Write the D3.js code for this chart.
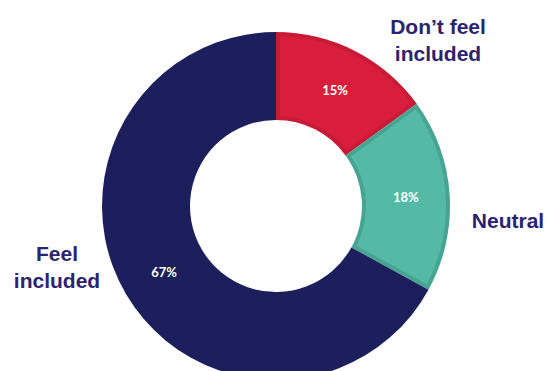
<!DOCTYPE html>
<html>
<head>
    <script src="https://d3js.org/d3.v7.min.js"></script>
    <style>
        body { margin: 0; background: #fff; }
        .outer-label { font-family: "Liberation Sans", Arial, sans-serif; font-weight: bold; font-size: 21px; fill: #2b2370; }
        .pct { font-family: Lato, "Open Sans", sans-serif; font-weight: bold; font-size: 13px; fill: #fff; }
    </style>
</head>
<body>
    <div id="chart"></div>
    <script>
        // slices in clockwise order from 12 o'clock
        const categories = ["Don't feel included", "Neutral", "Feel included"];
        const values = [15, 18, 67];
        const pctLabels = ["15%", "18%", "67%"];
        const fillColors = ["#d91e3c", "#54baa6", "#1c1f5c"];
        const edgeColors = ["#c71b37", "#46a592", "#1c1f5c"];
        // outer label lines per slice
        const outerLines = [["Don\u2019t feel", "included"], ["Neutral"], ["Feel", "included"]];

        const width = 549, height = 371;
        const cx = 276, cy = 206;
        const outerR = 174, innerR = 86;

        const svg = d3.select("#chart")
            .append("svg")
            .attr("width", width)
            .attr("height", height);

        const g = svg.append("g")
            .attr("transform", `translate(${cx},${cy})`);

        const pie = d3.pie().sort(null).value(d => d);
        const arcs = pie(values);

        const arc = d3.arc().innerRadius(innerR).outerRadius(outerR);
        // inset arc, leaves a darker rim on each slice
        const inset = d3.arc()
            .innerRadius(innerR + 4)
            .outerRadius(outerR - 4)
            .padRadius(130)
            .padAngle(8 / 130);
        const labelArc = d3.arc().innerRadius(130).outerRadius(130);

        g.selectAll("path.rim")
            .data(arcs)
            .join("path")
            .attr("class", "rim")
            .attr("d", arc)
            .attr("fill", (d, i) => edgeColors[i]);

        g.selectAll("path.slice")
            .data(arcs)
            .join("path")
            .attr("class", "slice")
            .attr("d", inset)
            .attr("fill", (d, i) => fillColors[i]);

        g.selectAll("text.pct")
            .data(arcs)
            .join("text")
            .attr("class", "pct")
            .attr("text-anchor", "middle")
            .attr("dy", "0.35em")
            .attr("transform", d => `translate(${labelArc.centroid(d)})`)
            .text((d, i) => pctLabels[i]);

        // outer label anchor points (absolute page coords)
        const outerPos = [[438, 34], [508, 228], [57, 261]];
        const lineGap = 27;

        outerLines.forEach((lines, i) => {
            const t = svg.append("text")
                .attr("class", "outer-label")
                .attr("text-anchor", "middle")
                .attr("x", outerPos[i][0])
                .attr("y", outerPos[i][1]);
            lines.forEach((s, j) => {
                t.append("tspan")
                    .attr("x", outerPos[i][0])
                    .attr("dy", j === 0 ? 0 : lineGap)
                    .text(s);
            });
        });
    </script>
</body>
</html>
